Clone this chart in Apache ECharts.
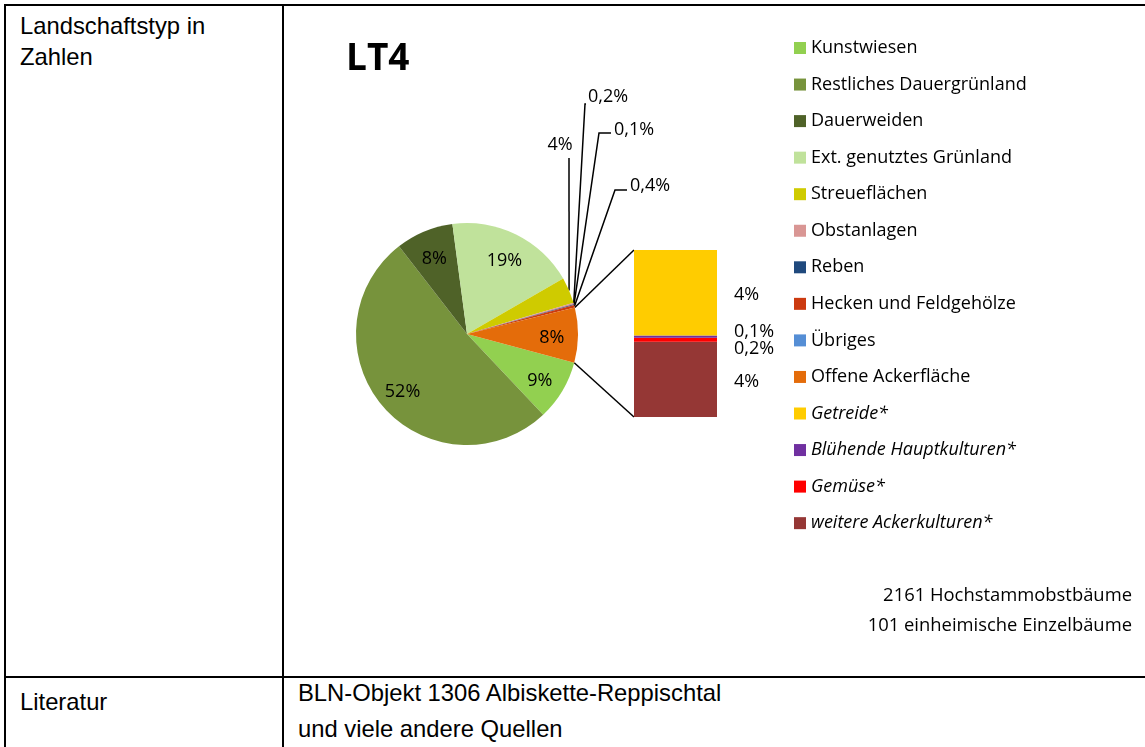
<!DOCTYPE html>
<html>
<head>
<meta charset="utf-8">
<script src="https://cdn.jsdelivr.net/npm/echarts@6/dist/echarts.min.js"></script>
<style>
  body { margin: 0; width: 1145px; height: 747px; position: relative; overflow: hidden; background: #fff;
         font-family: "Liberation Sans", Arial, sans-serif; }
  .line { position: absolute; background: #000; }
  .cell { position: absolute; font-size: 23.8px; line-height: 31px; color: #000; white-space: nowrap; }
  #chart { position: absolute; left: 0; top: 0; width: 1145px; height: 747px; }
</style>
</head>
<body>
<!-- table frame -->
<div class="line" style="left:4px;top:4px;width:1141px;height:2px"></div>
<div class="line" style="left:4px;top:4px;width:2px;height:743px"></div>
<div class="line" style="left:282px;top:4px;width:2px;height:743px"></div>
<div class="line" style="left:4px;top:676px;width:1141px;height:2px"></div>
<div class="cell" style="left:20px;top:10px">Landschaftstyp in<br>Zahlen</div>
<div class="cell" style="left:20px;top:686px">Literatur</div>
<div class="cell" style="left:298px;top:675px;line-height:36px">BLN-Objekt 1306 Albiskette-Reppischtal<br>und viele andere Quellen</div>
<div id="chart"></div>
<script>
// Anteile in % (Hauptkreis), "Offene Ackerfläche" = Summe der Säule rechts
const pieNames = ['Kunstwiesen', 'Restliches Dauergrünland', 'Dauerweiden', 'Ext. genutztes Grünland',
  'Streueflächen', 'Obstanlagen', 'Reben', 'Hecken und Feldgehölze', 'Übriges', 'Offene Ackerfläche'];
const pieValues = [8.8, 51.6, 8.4, 18.8, 3.8, 0.2, 0.1, 0.4, 0];
const pieColors = ['#92D050', '#77933C', '#4F6228', '#C0E29B', '#CFCB00', '#D99694', '#1F497D',
  '#CC3A10', '#558ED5', '#E46C0A'];

// Aufteilung der offenen Ackerfläche
const subNames = ['Getreide*', 'Blühende Hauptkulturen*', 'Gemüse*', 'weitere Ackerkulturen*'];
const subValues = [4.1, 0.1, 0.2, 3.6];
const subColors = ['#FFCC00', '#7030A0', '#FF0000', '#953735'];

const treeNotes = ['2161 Hochstammobstbäume', '101 einheimische Einzelbäume'];

const FONT = '"Open Sans", "Noto Sans", sans-serif';
const cx = 467, cy = 334, R = 111, START = -15;
const barBox = { left: 634, top: 250, width: 83, height: 167 };

const subSum = subValues.reduce((a, b) => a + b, 0);
const allValues = pieValues.concat([+subSum.toFixed(2)]);
const total = allValues.reduce((a, b) => a + b, 0);

function pct(v) {
  if (v >= 1) return Math.round(v) + '%';
  return v.toFixed(1).replace('.', ',') + '%';
}

// Beschriftungen der kleinen Segmente mit Führungslinien
const leaders = {
  4: { x: 560, y: 145, align: 'center', pts: [[569, 158], [569, 158]] },
  5: { x: 588, y: 97, align: 'left', pts: [[585, 104], [586, 104]] },
  6: { x: 614, y: 130, align: 'left', pts: [[599, 133], [611, 133]] },
  7: { x: 630, y: 186, align: 'left', pts: [[615, 190], [627, 190]] }
};

const pieData = pieNames.map((n, i) => {
  const v = allValues[i];
  const small = v < 5;
  return {
    name: n,
    value: v,
    itemStyle: { color: pieColors[i] },
    label: { show: v > 0, position: small ? 'outside' : 'inside' },
    labelLine: { show: small && v > 0 }
  };
});

// Verbindungslinien vom Segment "Offene Ackerfläche" zur Säule
const share = allValues[allValues.length - 1] / total;
const a1 = (START + share * 360) * Math.PI / 180;
const a2 = START * Math.PI / 180;
const p1 = [cx + R * Math.cos(a1), cy - R * Math.sin(a1)];
const p2 = [cx + R * Math.cos(a2), cy - R * Math.sin(a2)];

const chart = echarts.init(document.getElementById('chart'));

const barSeries = [3, 2, 1, 0].map(i => ({
  name: subNames[i],
  type: 'bar',
  stack: 'acker',
  barWidth: '100%',
  data: [subValues[i]],
  itemStyle: { color: subColors[i] },
  label: {
    show: true, position: 'right', distance: 17,
    formatter: p => pct(p.value),
    fontFamily: FONT, fontSize: 18, color: '#000',
    offset: i === 1 ? [0, -5] : (i === 2 ? [0, 9] : [0, 2])
  }
}));

chart.setOption({
  animation: false,
  title: {
    text: 'LT4', left: 341, top: 36,
    textStyle: { fontFamily: FONT, fontWeight: 'bold', fontSize: 37, color: '#000' }
  },
  legend: {
    orient: 'vertical', left: 794, top: 39, padding: 0,
    itemWidth: 12, itemHeight: 12, itemGap: 18.55,
    icon: 'rect', selectedMode: false,
    data: pieNames.concat(subNames),
    formatter: n => subNames.includes(n) ? '{i|' + n + '}' : n,
    textStyle: {
      fontFamily: FONT, fontSize: 18, lineHeight: 18, color: '#000',
      rich: { i: { fontFamily: FONT, fontSize: 18, lineHeight: 18, fontStyle: 'italic', color: '#000' } }
    }
  },
  grid: barBox,
  xAxis: { type: 'category', data: ['Offene Ackerfläche'], show: false },
  yAxis: { type: 'value', min: 0, max: subSum, show: false },
  graphic: [
    { type: 'line', shape: { x1: p1[0], y1: p1[1], x2: barBox.left, y2: barBox.top },
      style: { stroke: '#000', lineWidth: 1.5 } },
    { type: 'line', shape: { x1: p2[0], y1: p2[1], x2: barBox.left, y2: barBox.top + barBox.height },
      style: { stroke: '#000', lineWidth: 1.5 } }
  ].concat(treeNotes.map((t, i) => ({
    type: 'text', x: 1132, y: 596 + i * 30,
    style: { text: t, fontFamily: FONT, fontSize: 18.4, fill: '#000', align: 'right', verticalAlign: 'middle' }
  }))),
  series: [{
    type: 'pie',
    center: [cx, cy],
    radius: R,
    startAngle: START,
    clockwise: true,
    avoidLabelOverlap: false,
    emphasis: { disabled: true },
    itemStyle: { borderWidth: 0 },
    label: { formatter: p => pct(p.value), fontFamily: FONT, fontSize: 18, color: '#000' },
    labelLine: { length: 10, length2: 10, lineStyle: { color: '#000', width: 1.5 } },
    data: pieData,
    labelLayout: params => {
      const ld = leaders[params.dataIndex];
      if (ld) {
        const p0 = params.labelLinePoints ? params.labelLinePoints[0] : [cx + R, cy];
        return { x: ld.x, y: ld.y, align: ld.align, verticalAlign: 'middle',
                 labelLinePoints: [p0].concat(ld.pts) };
      }
      const r = params.labelRect;
      const lx = r.x + r.width / 2, ly = r.y + r.height / 2;
      return { x: cx + (lx - cx) * 1.45, y: cy + (ly - cy) * 1.45 + 3, align: 'center', verticalAlign: 'middle' };
    }
  }].concat(barSeries)
});
</script>
</body>
</html>
